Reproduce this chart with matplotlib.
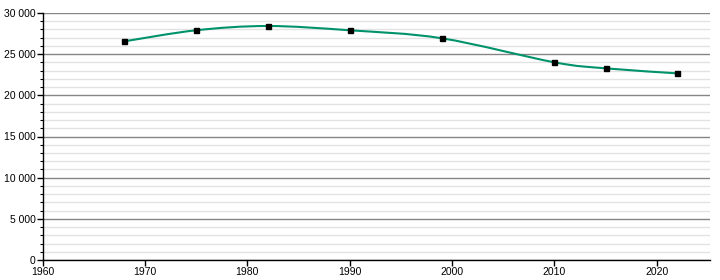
import matplotlib.pyplot as plt
from matplotlib.path import Path
from matplotlib.patches import PathPatch
from matplotlib.ticker import MultipleLocator, FuncFormatter

years = [1968, 1975, 1982, 1990, 1999, 2010, 2015, 2022]
population = [26560, 27900, 28420, 27900, 26930, 24010, 23280, 22670]

LINE_COLOR = '#00936b'

plt.rcParams['font.family'] = ['Liberation Sans', 'DejaVu Sans']


def smooth_path(xs, ys, tension=1 / 6):
    # catmull-rom style bezier through the data points (drawing style only)
    verts = [(xs[0], ys[0])]
    codes = [Path.MOVETO]
    n = len(xs)
    for i in range(n - 1):
        x0, y0 = (xs[i - 1], ys[i - 1]) if i > 0 else (xs[i], ys[i])
        x1, y1 = xs[i], ys[i]
        x2, y2 = xs[i + 1], ys[i + 1]
        x3, y3 = (xs[i + 2], ys[i + 2]) if i + 2 < n else (x2, y2)
        c1 = (x1 + (x2 - x0) * tension, y1 + (y2 - y0) * tension)
        c2 = (x2 - (x3 - x1) * tension, y2 - (y3 - y1) * tension)
        verts += [c1, c2, (x2, y2)]
        codes += [Path.CURVE4] * 3
    return Path(verts, codes)


fig = plt.figure(figsize=(7.2, 2.8), dpi=100)
ax = fig.add_axes([42.5 / 720, 20 / 280, 667.5 / 720, 247 / 280])

ax.set_xlim(1960, 2025.2)
ax.set_ylim(0, 30000)

ax.yaxis.set_major_locator(MultipleLocator(5000))
ax.yaxis.set_minor_locator(MultipleLocator(1000))
ax.xaxis.set_major_locator(MultipleLocator(10))
ax.yaxis.set_major_formatter(FuncFormatter(lambda v, p: f'{int(v):,}'.replace(',', ' ')))

ax.grid(True, which='major', axis='y', color='#858585', linewidth=1)
ax.grid(True, which='minor', axis='y', color='#e2e2e2', linewidth=1)
ax.set_axisbelow(True)

for side in ('top', 'right'):
    ax.spines[side].set_visible(False)
for side in ('left', 'bottom'):
    ax.spines[side].set_color('black')
    ax.spines[side].set_linewidth(1)

ax.tick_params(axis='both', which='major', length=4, width=1, labelsize=7.5, pad=1, colors='black')
ax.tick_params(axis='y', which='minor', length=2, width=0.8, colors='black')

patch = PathPatch(smooth_path(years, population), facecolor='none', edgecolor=LINE_COLOR,
                  linewidth=1.5, zorder=3)
ax.add_patch(patch)
ax.plot(years, population, linestyle='none', marker='s', markersize=3.6, color='black', zorder=4)

fig.savefig('out.png', dpi=100)
